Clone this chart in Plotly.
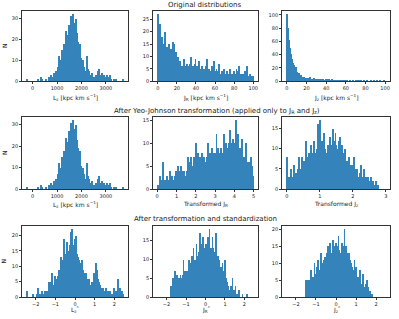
import numpy as np
import plotly.graph_objects as go

# ---------------- data (histogram counts, 100 bins each) ----------------
lz_range = (-234, 3705)
lz_counts = [1, 0, 0, 0, 0, 0, 0, 0, 0, 0,
             0, 1, 0, 0, 2, 1, 0, 0, 0, 1,
             0, 0, 1, 2, 0, 3, 2, 1, 4, 2,
             5, 3, 7, 12, 6, 10, 15, 9, 18, 14,
             24, 17, 22, 27, 20, 31, 24, 32, 26, 28,
             22, 30, 23, 19, 15, 18, 11, 8, 10, 7,
             5, 4, 12, 6, 5, 2, 3, 4, 1, 2,
             1, 3, 2, 5, 6, 2, 3, 1, 4, 2,
             3, 2, 1, 3, 1, 2, 3, 1, 0, 0,
             1, 0, 1, 0, 0, 0, 0, 0, 0, 1]

jr_range = (0, 100)
jr_counts = [27, 18, 23, 16, 18, 15, 14, 20, 13, 14,
             12, 15, 11, 13, 12, 16, 10, 15, 11, 12,
             9, 10, 7, 8, 5, 6, 4, 9, 6, 5,
             7, 5, 6, 7, 10, 5, 6, 4, 7, 9,
             5, 6, 4, 8, 5, 3, 6, 4, 5, 3,
             6, 9, 4, 5, 3, 4, 6, 3, 8, 4,
             3, 5, 2, 4, 7, 3, 2, 4, 3, 5,
             2, 3, 4, 2, 3, 5, 2, 3, 1, 4,
             2, 3, 5, 2, 4, 6, 2, 3, 1, 3,
             2, 4, 3, 6, 2, 1, 3, 2, 1, 2]

jz_range = (0, 100)
jz_counts = [101, 80, 62, 50, 41, 33, 28, 24, 19, 21,
             14, 11, 13, 8, 10, 7, 5, 6, 4, 5,
             3, 5, 4, 6, 3, 4, 2, 5, 3, 4,
             3, 2, 4, 3, 2, 3, 4, 2, 1, 3,
             2, 3, 4, 2, 1, 3, 2, 2, 1, 2,
             1, 2, 1, 0, 2, 1, 1, 0, 1, 1,
             0, 1, 0, 0, 1, 0, 0, 1, 0, 0,
             1, 0, 1, 1, 0, 1, 0, 0, 1, 0,
             0, 1, 0, 0, 0, 1, 0, 0, 1, 0,
             0, 1, 0, 0, 1, 0, 0, 0, 1, 0]

tjr_range = (0.03, 4.98)
tjr_counts = [1, 0, 3, 1, 2, 6, 1, 2, 1, 3,
              1, 2, 4, 1, 3, 2, 1, 3, 2, 4,
              3, 5, 4, 3, 5, 4, 2, 4, 3, 1,
              4, 7, 3, 6, 7, 5, 4, 7, 5, 6,
              10, 5, 8, 6, 7, 5, 8, 6, 7, 5,
              6, 7, 10, 6, 8, 7, 9, 6, 8, 7,
              8, 12, 6, 9, 7, 8, 9, 7, 8, 12,
              7, 10, 9, 8, 10, 13, 9, 10, 11, 9,
              10, 15, 9, 10, 12, 8, 9, 7, 11, 6,
              7, 5, 10, 6, 5, 6, 4, 7, 5, 3]

tjz_range = (0.0, 2.98)
tjz_counts = [8, 3, 2, 3, 5, 2, 3, 6, 2, 4,
              3, 5, 8, 5, 4, 8, 6, 7, 5, 12,
              8, 6, 9, 7, 11, 9, 8, 12, 9, 8,
              10, 16, 9, 17, 11, 12, 10, 14, 10, 9,
              8, 11, 10, 13, 9, 11, 15, 10, 12, 14,
              11, 10, 9, 12, 13, 10, 11, 9, 8, 10,
              7, 7, 6, 8, 6, 5, 6, 4, 8, 5,
              4, 5, 3, 3, 4, 6, 3, 2, 5, 2,
              3, 2, 3, 1, 2, 3, 1, 2, 1, 1,
              2, 1, 1, 0, 0, 0, 0, 0, 0, 0]

slz_range = (-2.45, 2.45)
slz_counts = [2, 0, 0, 0, 0, 0, 1, 0, 0, 0,
              1, 3, 0, 1, 1, 2, 1, 1, 2, 1,
              2, 2, 3, 5, 2, 5, 8, 3, 4, 7,
              5, 6, 7, 9, 8, 13, 10, 12, 19, 14,
              13, 18, 14, 15, 17, 21, 22, 17, 15, 19,
              15, 20, 14, 13, 12, 11, 10, 12, 9, 8,
              7, 8, 6, 5, 6, 4, 3, 5, 4, 8,
              6, 11, 9, 6, 5, 4, 3, 2, 3, 3,
              2, 1, 3, 2, 2, 1, 2, 1, 0, 1,
              3, 2, 1, 2, 6, 3, 3, 2, 2, 1]

sjr_range = (-1.78, 2.15)
sjr_counts = [3, 2, 5, 3, 4, 7, 3, 4, 6, 4,
              5, 3, 6, 5, 4, 6, 10, 5, 7, 6,
              5, 7, 6, 10, 8, 7, 9, 11, 8, 13,
              10, 9, 10, 14, 11, 10, 12, 13, 17, 12,
              14, 13, 16, 12, 13, 14, 11, 12, 16, 13,
              18, 12, 13, 11, 16, 13, 12, 11, 13, 17,
              10, 11, 9, 10, 8, 8, 7, 9, 6, 7,
              10, 6, 5, 4, 3, 2, 2, 1, 3, 2,
              5, 1, 2, 1, 3, 1, 0, 1, 0, 2,
              0, 0, 0, 1, 0, 0, 0, 0, 0, 1]

sjz_range = (-1.52, 1.80)
sjz_counts = [5, 5, 4, 5, 3, 5, 4, 3, 8, 4,
              3, 6, 5, 10, 7, 6, 7, 9, 11, 8,
              7, 8, 10, 13, 9, 10, 9, 11, 12, 10,
              12, 13, 11, 15, 12, 13, 16, 14, 12, 13,
              14, 17, 15, 12, 13, 16, 14, 12, 15, 18,
              14, 11, 13, 12, 16, 14, 13, 15, 20, 13,
              15, 12, 13, 11, 10, 13, 11, 9, 10, 8,
              9, 8, 7, 11, 8, 9, 7, 6, 5, 6,
              4, 8, 5, 4, 4, 3, 7, 3, 2, 3,
              4, 2, 5, 2, 3, 2, 1, 2, 1, 1]

row_titles = ["Original distributions",
              "After Yeo-Johnson transformation (applied only to J<sub>R</sub> and J<sub>z</sub>)",
              "After transformation and standardization"]

unit = " [kpc km s<sup>\u22121</sup>]"
x_labels = ["L<sub>z</sub>" + unit, "J<sub>R</sub>" + unit, "J<sub>z</sub>" + unit,
            "L<sub>z</sub>" + unit, "Transformed J<sub>R</sub>", "Transformed J<sub>z</sub>",
            "L<sub>z</sub><sup>*</sup>", "J<sub>R</sub><sup>*</sup>", "J<sub>z</sub><sup>*</sup>"]

panels = [(lz_range, lz_counts), (jr_range, jr_counts), (jz_range, jz_counts),
          (lz_range, lz_counts), (tjr_range, tjr_counts), (tjz_range, tjz_counts),
          (slz_range, slz_counts), (sjr_range, sjr_counts), (sjz_range, sjz_counts)]

x_ranges = [(-431, 3902), (-5, 105), (-5, 105),
            (-431, 3902), (-0.2175, 5.2275), (-0.149, 3.129),
            (-2.695, 2.695), (-2.695, 2.695), (-2.695, 2.695)]
x_dticks = [1000, 20, 20, 1000, 1, 1, 1, 1, 1]
y_dticks = [10, 5, 20, 10, 5, 5, 5, 5, 5]

# ---------------- layout geometry (pixels) ----------------
W, H = 399, 319
cols_px = [(22, 128), (153, 258), (282, 390)]
rows_px = [(11, 82), (118, 191), (228, 300)]
title_y = [5, 112, 221]
title_x = [205, 217, 205]
xlabel_y = [98, 206, 312]

BLUE = "#1f77b4"
FONT = "DejaVu Sans"
AX = "#333333"
TXT = "#1a1a1a"

fig = go.Figure()
layout = dict(width=W, height=H, margin=dict(l=0, r=0, t=0, b=0),
              paper_bgcolor="white", plot_bgcolor="white",
              showlegend=False, bargap=0,
              font=dict(family=FONT, size=5, color=TXT))
annotations = []

for k, ((lo, hi), counts) in enumerate(panels):
    r, c = divmod(k, 3)
    n = len(counts)
    edges = np.linspace(lo, hi, n + 1)
    centers = 0.5 * (edges[:-1] + edges[1:])
    bw = (hi - lo) / n
    xa = "x" if k == 0 else f"x{k+1}"
    ya = "y" if k == 0 else f"y{k+1}"
    fig.add_trace(go.Bar(x=centers, y=counts, width=bw, xaxis=xa, yaxis=ya,
                         marker=dict(color=BLUE, line=dict(width=0)), opacity=0.9))
    x0, x1 = cols_px[c]
    y0, y1 = rows_px[r]
    common = dict(showline=True, mirror=True, linecolor=AX, linewidth=0.8,
                  ticks="outside", ticklen=2, tickwidth=0.6, tickcolor=AX,
                  showgrid=False, zeroline=False,
                  tickfont=dict(family=FONT, size=5, color=TXT))
    layout["xaxis" if k == 0 else f"xaxis{k+1}"] = dict(
        domain=[x0 / W, x1 / W], anchor=ya, range=list(x_ranges[k]),
        dtick=x_dticks[k], tick0=0, **common)
    ymax = max(counts) * 1.05
    layout["yaxis" if k == 0 else f"yaxis{k+1}"] = dict(
        domain=[1 - y1 / H, 1 - y0 / H], anchor=xa, range=[0, ymax],
        dtick=y_dticks[k], tick0=0, **common)
    annotations.append(dict(text=x_labels[k], x=(x0 + x1) / 2 / W, y=1 - xlabel_y[r] / H,
                            xref="paper", yref="paper", showarrow=False,
                            xanchor="center", yanchor="middle",
                            font=dict(family=FONT, size=6, color=TXT)))

for r in range(3):
    annotations.append(dict(text=row_titles[r], x=title_x[r] / W, y=1 - title_y[r] / H,
                            xref="paper", yref="paper", showarrow=False,
                            xanchor="center", yanchor="middle",
                            font=dict(family=FONT, size=7, color=TXT)))
    yc = (rows_px[r][0] + rows_px[r][1]) / 2
    annotations.append(dict(text="N", x=4 / W, y=1 - yc / H, xref="paper", yref="paper",
                            showarrow=False, textangle=-90, xanchor="center",
                            yanchor="middle", font=dict(family=FONT, size=6, color=TXT)))

layout["annotations"] = annotations
fig.update_layout(**layout)
fig.write_html("out.html", config={"displayModeBar": False},
               post_script="document.body.style.margin='0';document.body.style.overflow='hidden';")
